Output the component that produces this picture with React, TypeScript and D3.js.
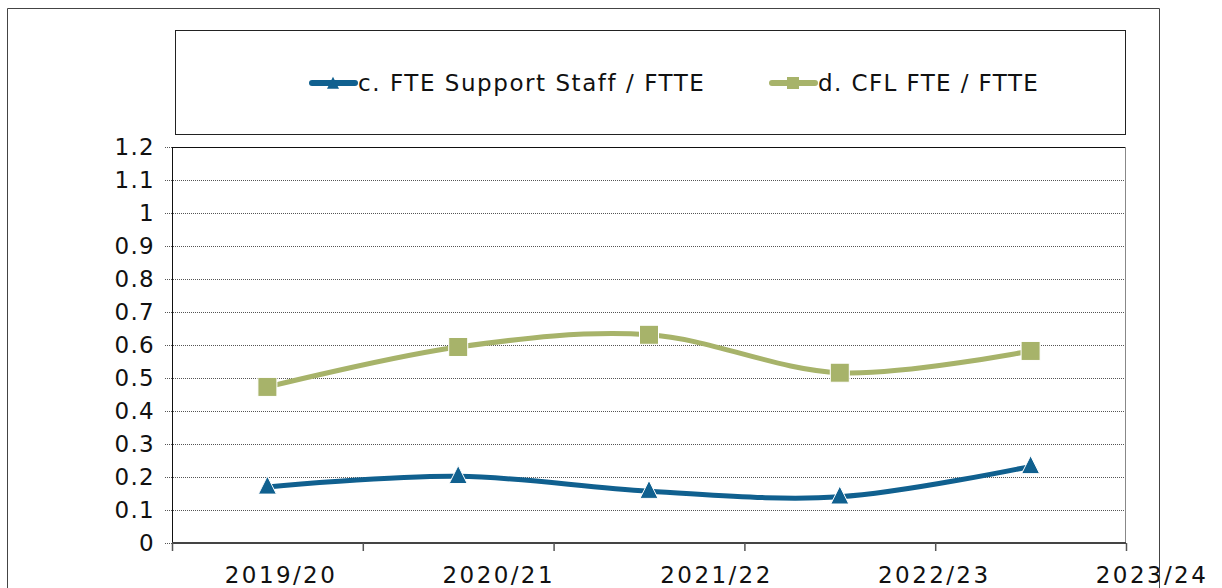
import React from "react";
import * as d3 from "d3";

// categories / values
const years = ["2019/20", "2020/21", "2021/22", "2022/23", "2023/24"];
const axisLabels = ["2019/20", "2020/21", "2021/22", "2022/23", "2023/24"];
const supportStaff = [0.17, 0.202, 0.157, 0.14, 0.232];
const cflFte = [0.473, 0.594, 0.631, 0.516, 0.582];
const yTicks = [0, 0.1, 0.2, 0.3, 0.4, 0.5, 0.6, 0.7, 0.8, 0.9, 1, 1.1, 1.2];

const BLUE = "#10608f";
const GREEN = "#a7b36a";
const FONT = "'DejaVu Sans', Verdana, sans-serif";

const W = 1222;
const H = 588;
const plot = { left: 172, right: 1126, top: 147, bottom: 543 };

export default function App() {
  const x = d3.scaleBand<string>().domain(years).range([plot.left, plot.right]);
  const y = d3.scaleLinear().domain([0, 1.2]).range([plot.bottom, plot.top]);
  // Excel puts the category text further apart than the bands
  const labelX = d3.scalePoint<string>().domain(axisLabels).range([281, 1152]);

  const cx = (i: number) => (x(years[i]) ?? 0) + x.bandwidth() / 2;
  const line = d3
    .line<number>()
    .x((_, i) => cx(i))
    .y((d) => y(d))
    .curve(d3.curveCardinal.tension(0));

  const tickXs = [...years.map((c) => x(c) ?? 0), plot.right];

  const tri = (px: number, py: number, s: number) =>
    `M${px},${py - s * 0.6}L${px + s / 2},${py + s * 0.4}L${px - s / 2},${py + s * 0.4}Z`;

  const textStyle = { fontFamily: FONT, fontSize: 23, letterSpacing: 1.3, fill: "#111" };

  return (
    <svg width={W} height={H} style={{ position: "fixed", left: 0, top: 0, background: "#fff" }}>
      <rect x={0} y={0} width={W} height={H} fill="#fff" />

      {/* legend box */}
      <rect x={175.5} y={30.5} width={950} height={104} fill="none" stroke="#222" strokeWidth={1} />
      <g>
        <line x1={312} x2={355} y1={83} y2={83} stroke={BLUE} strokeWidth={6} strokeLinecap="round" />
        <path d={tri(333, 84, 12)} fill={BLUE} />
        <text x={358} y={91} style={{ ...textStyle, letterSpacing: 1.55 }}>c. FTE Support Staff / FTTE</text>
        <line x1={772} x2={815} y1={83} y2={83} stroke={GREEN} strokeWidth={6} strokeLinecap="round" />
        <rect x={787} y={77} width={12} height={12} fill={GREEN} />
        <text x={818} y={91} style={{ ...textStyle, letterSpacing: 1.4 }}>d. CFL FTE / FTTE</text>
      </g>

      {/* gridlines */}
      {yTicks.map((t) => (
        <line
          key={t}
          x1={165}
          x2={plot.right}
          y1={Math.round(y(t)) + 0.5}
          y2={Math.round(y(t)) + 0.5}
          stroke="#555"
          strokeWidth={1}
          strokeDasharray="1,1"
        />
      ))}
      {/* y labels */}
      {yTicks.map((t) => (
        <text
          key={"l" + t}
          x={155}
          y={y(t)}
          dy="0.36em"
          textAnchor="end"
          style={textStyle}
        >
          {d3.format("~g")(t)}
        </text>
      ))}

      {/* frame */}
      <line x1={plot.left} x2={plot.right} y1={plot.top + 0.5} y2={plot.top + 0.5} stroke="#111" />
      <line x1={plot.right - 0.5} x2={plot.right - 0.5} y1={plot.top} y2={plot.bottom} stroke="#888" />
      <line x1={plot.left + 0.5} x2={plot.left + 0.5} y1={plot.top} y2={plot.bottom + 8} stroke="#111" />
      <line x1={plot.left} x2={plot.right} y1={plot.bottom} y2={plot.bottom} stroke="#444" strokeWidth={2} />
      {tickXs.map((tx, i) => (
        <line key={i} x1={tx + 0.5} x2={tx + 0.5} y1={plot.bottom} y2={plot.bottom + 8} stroke="#555" strokeWidth={1.5} />
      ))}

      {/* x labels */}
      {axisLabels.map((c) => (
        <text key={c} x={labelX(c)} y={583} textAnchor="middle" style={{ ...textStyle, letterSpacing: 2.4 }}>
          {c}
        </text>
      ))}

      {/* series */}
      <path d={line(cflFte) ?? ""} fill="none" stroke={GREEN} strokeWidth={5} />
      <path d={line(supportStaff) ?? ""} fill="none" stroke={BLUE} strokeWidth={5} />
      {cflFte.map((v, i) => (
        <rect key={"s" + i} x={cx(i) - 9.5} y={y(v) - 9.5} width={19} height={19} fill={GREEN} stroke="#fff" strokeWidth={1} />
      ))}
      {supportStaff.map((v, i) => (
        <path key={"t" + i} d={tri(cx(i), y(v), 18)} fill={BLUE} stroke="#fff" strokeWidth={1} />
      ))}

      {/* outer chart border drawn last, over the last label */}
      <path d={`M7.5,${H + 2}V8.5H1159.5V${H + 2}`} fill="none" stroke="#444" strokeWidth={1} />
    </svg>
  );
}
